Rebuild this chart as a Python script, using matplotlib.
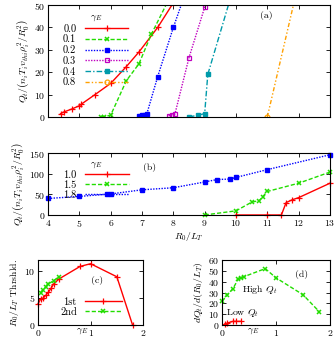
import numpy as np
import matplotlib
matplotlib.use('Agg')
import matplotlib.pyplot as plt

plt.rcParams['font.family'] = 'serif'
plt.rcParams['font.serif'] = ['cmr10', 'DejaVu Serif']
plt.rcParams['mathtext.fontset'] = 'cm'
plt.rcParams['axes.formatter.use_mathtext'] = True
plt.rcParams['font.size'] = 7

# panel (a): Q_t vs R0/LT for low gamma_E
a_labels = ['0.0', '0.1', '0.2', '0.3', '0.4', '0.8']
a_x = [
    [4.4, 4.5, 4.75, 5.0, 5.05, 5.5, 6.0, 6.5, 6.9, 7.5, 8.0],
    [5.7, 5.8, 6.0, 6.5, 6.9, 7.3, 7.8],
    [6.9, 7.0, 7.1, 7.15, 7.5, 8.0, 8.3],
    [7.85, 7.95, 8.05, 8.5, 9.0, 9.1],
    [8.5, 8.8, 9.0, 9.1, 9.8],
    [11.0, 12.0],
]
a_y = [
    [1.5, 2.2, 3.5, 5.0, 5.6, 10.0, 15.0, 22.5, 29.0, 40.0, 51.0],
    [0.0, 0.2, 0.8, 16.2, 23.7, 37.0, 51.0],
    [0.5, 0.7, 0.9, 1.2, 18.0, 40.0, 52.0],
    [0.5, 1.0, 1.3, 26.5, 49.0, 56.0],
    [0.0, 0.8, 1.5, 19.0, 52.0],
    [0.0, 60.0],
]

# panel (b): high gamma_E
b_labels = ['1.0', '1.5', '1.8']
b_x = [
    [10.0, 11.0, 11.45, 11.6, 11.8, 12.0, 13.0],
    [9.0, 10.0, 10.5, 10.75, 10.85, 11.0, 12.0, 13.0],
    [4.0, 5.0, 6.0, 7.0, 8.0, 9.0, 9.4, 9.8, 10.0, 11.0, 13.0],
]
b_y = [
    [0.0, 0.0, 0.0, 30.0, 37.0, 42.0, 77.0],
    [0.0, 10.0, 31.0, 35.0, 44.0, 57.0, 77.0, 104.0],
    [40.0, 45.0, 51.0, 61.0, 66.0, 80.0, 86.0, 87.0, 91.0, 110.0, 146.0],
]

# panel (c): thresholds
c1_g = [0.0, 0.05, 0.1, 0.15, 0.2, 0.25, 0.3, 0.4, 0.8, 1.0, 1.5, 1.8]
c1_t = [3.9, 4.8, 5.0, 5.5, 6.1, 6.8, 7.6, 8.5, 10.8, 11.3, 8.9, 0.0]
c2_g = [0.05, 0.1, 0.15, 0.2, 0.3, 0.4]
c2_t = [6.0, 6.5, 7.1, 7.6, 8.2, 8.9]

# panel (d): stiffness
dh_g = [0.0, 0.1, 0.2, 0.3, 0.35, 0.4, 0.8, 1.0, 1.5, 1.8]
dh_s = [22.0, 28.0, 33.5, 42.5, 43.5, 44.5, 52.0, 43.5, 28.0, 12.5]
dl_g = [0.05, 0.1, 0.2, 0.25, 0.35]
dl_s = [1.0, 2.0, 3.5, 3.5, 3.5]

red = '#ff0000'
green = '#22dd00'
blue = '#0000ff'
magenta = '#c000c0'
cyan = '#009aaa'
orange = '#ffa000'

styles = [
    dict(color=red, ls='-', marker='+', ms=4, mew=0.9),
    dict(color=green, ls=(0, (3, 1.5)), marker='x', ms=3, mew=1.1),
    dict(color=blue, ls=(0, (1, 1)), marker='s', ms=3),
    dict(color=magenta, ls=(0, (1, 1)), marker='s', ms=3.5, mfc='none', mew=0.9),
    dict(color=cyan, ls=(0, (4, 1.5, 1, 1.5)), marker='s', ms=3),
    dict(color=orange, ls=(0, (3, 1.5, 1, 1.5, 1, 1.5)), marker='o', ms=3.5, mfc='none', mew=0.9),
]
bstyles = [styles[0], styles[1], styles[2]]

ylab = r'$Q_t/\left(n_i T_i v_{thi}\rho_i^2/R_0^2\right)$'
gam = r'$\gamma_E$'

fig = plt.figure(figsize=(3.36, 3.38), dpi=100)

def ticks_in(ax):
    ax.tick_params(direction='in', top=True, right=True, length=3, width=0.6, pad=2)
    for s in ax.spines.values():
        s.set_linewidth(0.8)

# (a)
ax = fig.add_axes([0.143, 0.654, 0.839, 0.331])
for xs, ys, lab, st in zip(a_x, a_y, a_labels, styles):
    ax.plot(xs, ys, lw=1.0, label=lab, clip_on=True, **st)
ax.set_xlim(4, 13)
ax.set_ylim(0, 50)
ax.set_xticks(range(4, 14))
ax.set_xticklabels([])
ax.set_yticks(range(0, 51, 10))
ax.set_ylabel(ylab, labelpad=2)
ax.text(0.773, 0.91, '(a)', transform=ax.transAxes, ha='center', va='center')
ticks_in(ax)
ax.legend(loc='upper left', bbox_to_anchor=(0.02, 1.02), frameon=False, title=gam,
          markerfirst=False, handlelength=4.2, labelspacing=0.12, handletextpad=0.8,
          fontsize=7.5, title_fontsize=7)

# (b)
ax = fig.add_axes([0.143, 0.364, 0.839, 0.183])
for xs, ys, lab, st in zip(b_x, b_y, b_labels, bstyles):
    ax.plot(xs, ys, lw=1.0, label=lab, clip_on=False, **st)
ax.set_xlim(4, 13)
ax.set_ylim(0, 150)
ax.set_xticks(range(4, 14))
ax.set_yticks([0, 50, 100, 150])
ax.set_ylabel(ylab, labelpad=2)
ax.set_xlabel(r'$R_0/L_T$', labelpad=1)
ax.text(0.36, 0.77, '(b)', transform=ax.transAxes, ha='center', va='center')
ticks_in(ax)
ax.legend(loc='upper left', bbox_to_anchor=(0.02, 1.06), frameon=False, title=gam,
          markerfirst=False, handlelength=4.2, labelspacing=0.05, handletextpad=0.8,
          fontsize=7.5, title_fontsize=7)

# (c)
ax = fig.add_axes([0.113, 0.038, 0.313, 0.193])
ax.plot(c1_g, c1_t, lw=1.0, label='1st', clip_on=False, **styles[0])
ax.plot(c2_g, c2_t, lw=1.0, label='2nd', clip_on=False, **styles[1])
ax.set_xlim(0, 2)
ax.set_ylim(0, 12)
ax.set_xticks([0, 1, 2])
ax.set_yticks([0, 5, 10])
ax.set_ylabel(r'$R_0/L_T$ Thrshld.', labelpad=2)
ax.set_xlabel(gam)
ax.xaxis.set_label_coords(0.42, -0.09)
ax.xaxis.label.set_va('center')
ax.text(0.56, 0.69, '(c)', transform=ax.transAxes, ha='center', va='center')
ticks_in(ax)
ax.legend(loc='lower left', bbox_to_anchor=(0.12, -0.02), frameon=False,
          markerfirst=False, handlelength=3.5, labelspacing=0.05, handletextpad=0.8,
          fontsize=7.5)

# (d)
ax = fig.add_axes([0.661, 0.038, 0.321, 0.193])
ax.plot(dh_g, dh_s, lw=1.0, clip_on=False, **styles[1])
ax.plot(dl_g, dl_s, lw=1.0, clip_on=False, **styles[0])
ax.set_xlim(0, 2)
ax.set_ylim(0, 60)
ax.set_xticks([0, 1, 2])
ax.set_yticks(range(0, 61, 10))
ax.set_ylabel(r'$dQ_t/d(R_0/L_T)$', labelpad=2)
ax.set_xlabel(gam)
ax.xaxis.set_label_coords(0.29, -0.09)
ax.xaxis.label.set_va('center')
ax.text(0.74, 0.77, '(d)', transform=ax.transAxes, ha='center', va='center')
ax.text(0.35, 0.54, r'High $Q_t$', transform=ax.transAxes, ha='center', va='center')
ax.text(0.19, 0.18, r'Low $Q_t$', transform=ax.transAxes, ha='center', va='center')
ticks_in(ax)

fig.savefig('out.png', dpi=100)
